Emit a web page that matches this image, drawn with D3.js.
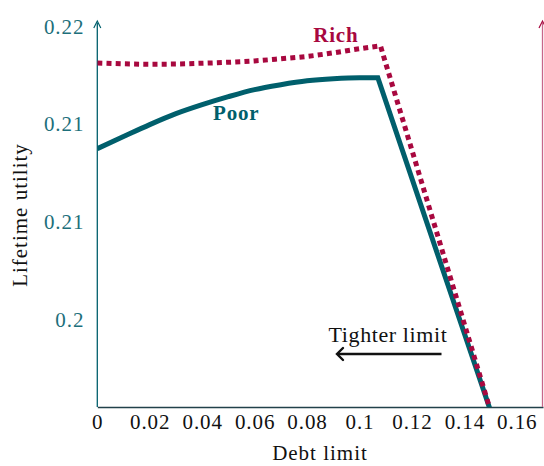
<!DOCTYPE html>
<html><head><meta charset="utf-8">
<script src="https://cdn.jsdelivr.net/npm/d3@7"></script>
<style>body{margin:0;background:#fff}svg{display:block}</style>
</head><body>
<svg id="c" width="544" height="466"></svg>
<script>
const debtLimit = [0, 0.01, 0.02, 0.03, 0.04, 0.05, 0.06, 0.07, 0.08, 0.09, 0.1];
const poorRise = [0.21372, 0.21434, 0.21495, 0.21551, 0.21597, 0.21638, 0.21674, 0.21699, 0.21719, 0.2173, 0.21735];
const richRise = [0.2181, 0.21806, 0.21804, 0.21805, 0.21809, 0.21814, 0.21821, 0.21832, 0.21844, 0.21862, 0.21883];
const poorKink = [0.107, 0.21735];
const richKink = [0.108, 0.21898];
const dropEnd = [0.15, 0.2003];
const xTicks = [0, 0.02, 0.04, 0.06, 0.08, 0.1, 0.12, 0.14, 0.16];
const xTickLabels = ["0", "0.02", "0.04", "0.06", "0.08", "0.1", "0.12", "0.14", "0.16"];
const yTicks = [0.205, 0.21, 0.215, 0.22];
const yTickLabels = ["0.2", "0.21", "0.21", "0.22"];

const TEAL = "#005f6c", CRIM = "#a8083f", TEAL_TXT = "#1d6f7b";
const FONT = "'Liberation Serif', 'DejaVu Serif', serif";
const L = 97.3, R = 543, T = 22, B = 407;
const svg = d3.select("#c");
const x = d3.scaleLinear().domain([0, 0.17]).range([L, R]);
const y = d3.scaleLinear().domain([0.2005, 0.2202]).range([B, T]);

svg.append("defs").append("clipPath").attr("id", "clip")
  .append("rect").attr("x", L).attr("y", 0).attr("width", R - L).attr("height", B);

// axes
const xa = svg.append("g").attr("transform", `translate(0,${B})`)
  .call(d3.axisBottom(x).tickValues(xTicks).tickSize(0).tickFormat((d, i) => xTickLabels[i]));
xa.select(".domain").attr("stroke", "#22414a").attr("stroke-width", 1.3);
xa.selectAll("text").attr("font-family", FONT).attr("font-size", 21).attr("letter-spacing", 0.9)
  .attr("fill", "#111").attr("dy", "0.95em").attr("y", 2);

const ya = svg.append("g").attr("transform", `translate(${L},0)`)
  .call(d3.axisLeft(y).tickValues(yTicks).tickSize(0).tickFormat((d, i) => yTickLabels[i]));
ya.select(".domain").remove();
ya.selectAll("text").attr("font-family", FONT).attr("font-size", 21).attr("letter-spacing", 0.9)
  .attr("fill", TEAL_TXT).attr("x", -13).attr("dy", "0.35em");

svg.append("line").attr("x1", L).attr("x2", L).attr("y1", B).attr("y2", T + 1)
  .attr("stroke", TEAL).attr("stroke-width", 1.3);
svg.append("line").attr("x1", R - 0.5).attr("x2", R - 0.5).attr("y1", B).attr("y2", T + 1)
  .attr("stroke", "#c7678a").attr("stroke-width", 1.3);
svg.append("path").attr("d", `M${L - 3.5},${T + 6} L${L},${T - 1} L${L + 3.5},${T + 6}`)
  .attr("fill", "none").attr("stroke", TEAL).attr("stroke-width", 1.2);
svg.append("path").attr("d", `M${R - 4},${T + 6} L${R - 0.5},${T - 1} L${R + 3},${T + 6}`)
  .attr("fill", "none").attr("stroke", CRIM).attr("stroke-width", 1.2);

// series
const smooth = d3.line().x(d => x(d[0])).y(d => y(d[1])).curve(d3.curveMonotoneX);
const straight = d3.line().x(d => x(d[0])).y(d => y(d[1]));
const g = svg.append("g").attr("clip-path", "url(#clip)");

function series(rise, kink, color, dash) {
  const pts = debtLimit.map((d, i) => [d, rise[i]]).concat([kink]);
  const p = smooth(pts) + straight([kink, dropEnd]).replace(/^M[^L]*/, "");
  const path = g.append("path").attr("d", p).attr("fill", "none").attr("stroke", color)
    .attr("stroke-width", 5).attr("stroke-linejoin", "miter");
  if (dash) path.attr("stroke-dasharray", dash);
}
series(poorRise, poorKink, TEAL, null);
series(richRise, richKink, CRIM, "5,4.2");

// labels
svg.append("text").attr("x", x(0.091)).attr("y", 42).attr("text-anchor", "middle").attr("letter-spacing", 0.8)
  .attr("font-family", FONT).attr("font-weight", "bold").attr("font-size", 21).attr("fill", CRIM).text("Rich");
svg.append("text").attr("x", x(0.053)).attr("y", 120).attr("text-anchor", "middle").attr("letter-spacing", 0.8)
  .attr("font-family", FONT).attr("font-weight", "bold").attr("font-size", 21).attr("fill", TEAL).text("Poor");
svg.append("text").attr("x", 388).attr("y", 342).attr("text-anchor", "middle").attr("letter-spacing", 0.6)
  .attr("font-family", FONT).attr("font-size", 22).attr("fill", "#111").text("Tighter limit");
svg.append("line").attr("x1", 441.5).attr("x2", 338).attr("y1", 354).attr("y2", 354)
  .attr("stroke", "#111").attr("stroke-width", 2.4);
svg.append("path").attr("d", "M343,348 L337,354 L343,360").attr("fill", "none")
  .attr("stroke", "#111").attr("stroke-width", 2.4).attr("stroke-linecap", "round");

svg.append("text").attr("x", 320).attr("y", 460).attr("text-anchor", "middle").attr("letter-spacing", 1)
  .attr("font-family", FONT).attr("font-size", 21).attr("fill", "#111").text("Debt limit");
svg.append("text").attr("transform", "translate(27,215) rotate(-90)").attr("text-anchor", "middle").attr("letter-spacing", 1)
  .attr("font-family", FONT).attr("font-size", 21).attr("fill", "#111").text("Lifetime utility");
</script>
</body></html>
